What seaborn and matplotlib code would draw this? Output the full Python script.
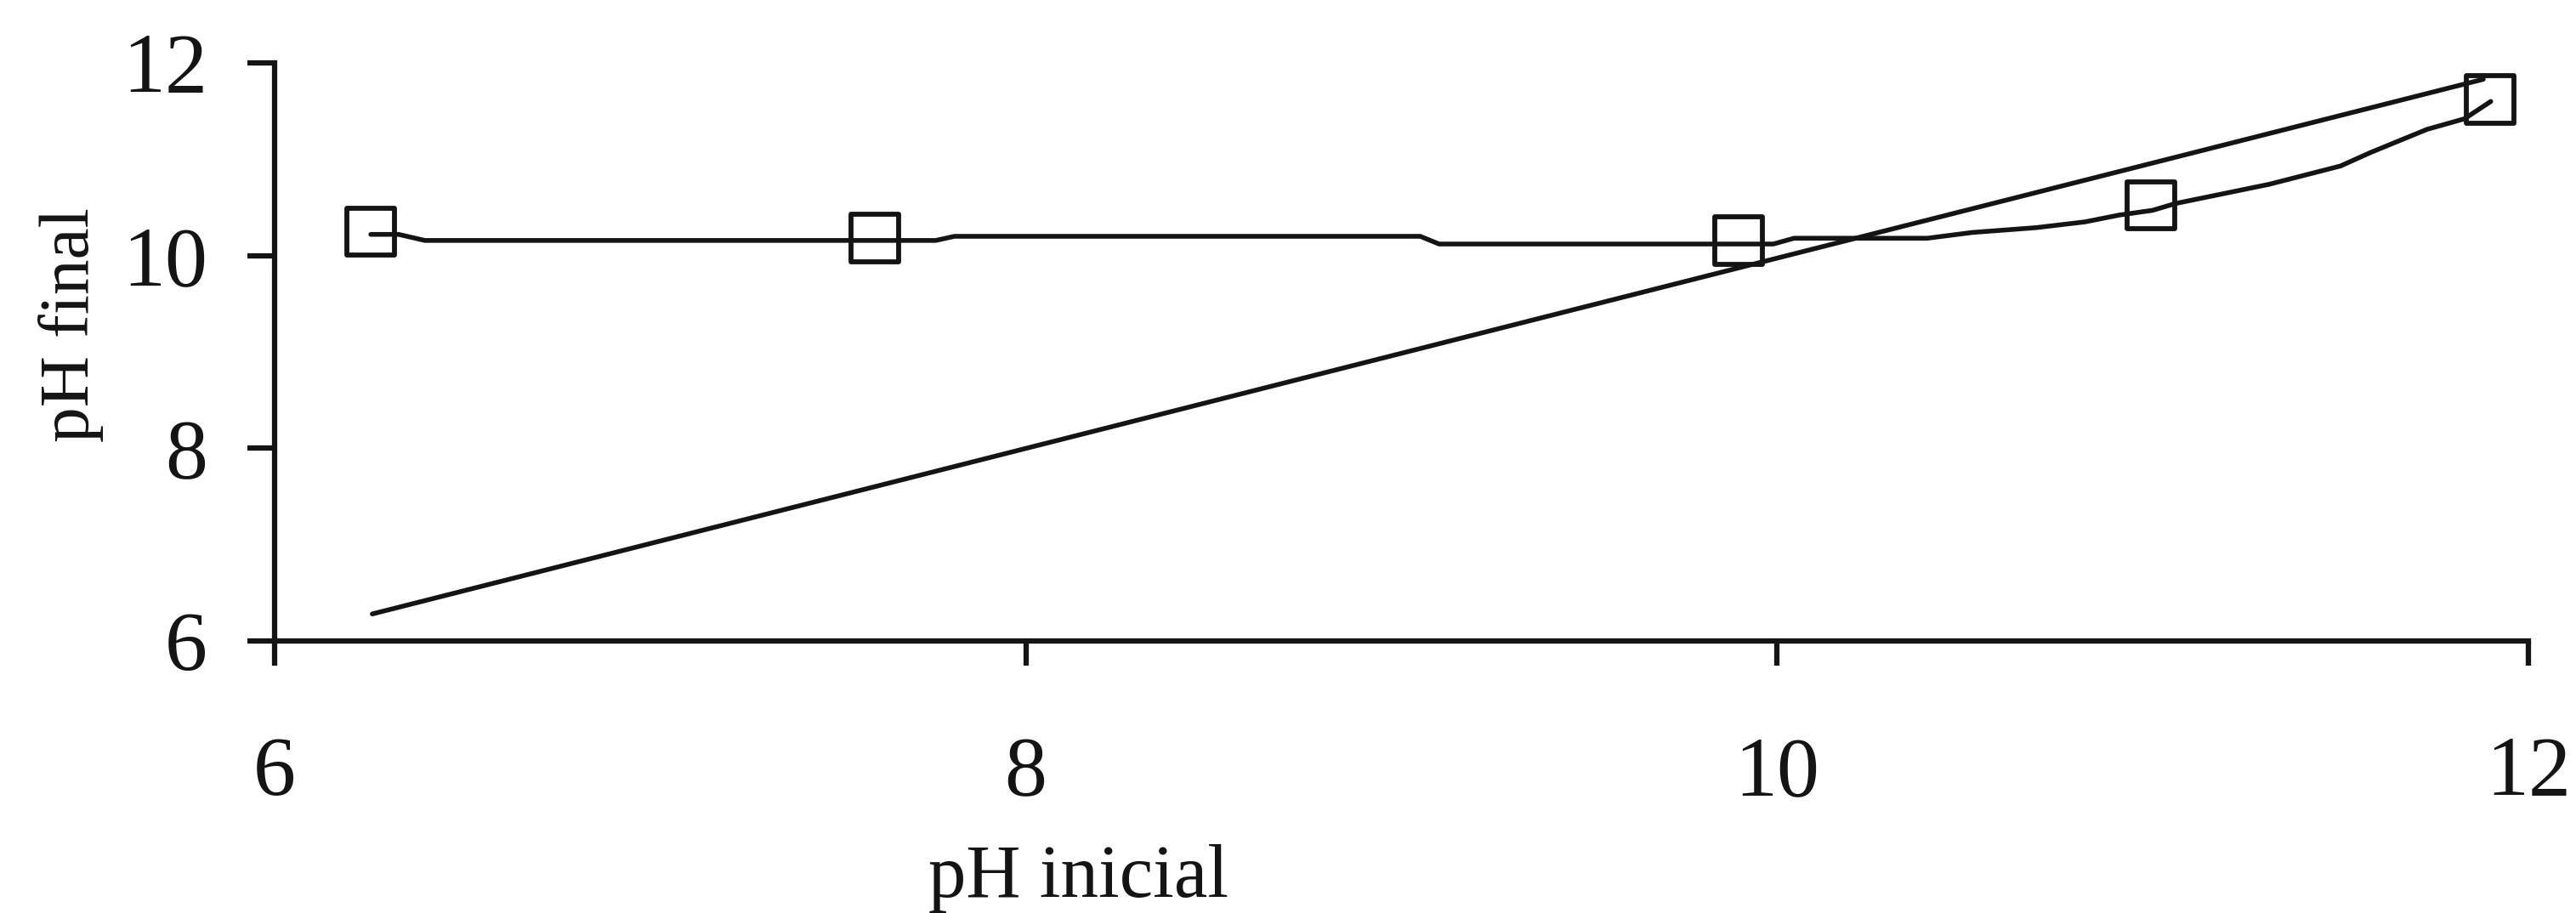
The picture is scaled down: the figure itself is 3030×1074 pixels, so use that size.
import matplotlib
matplotlib.use("Agg")
import matplotlib.pyplot as plt
import seaborn as sns
import pandas as pd

# Measured points: initial vs final pH
ph_inicial = [6.256, 7.598, 9.898, 10.995, 11.898]
ph_final = [10.25, 10.18, 10.157, 10.52, 11.62]

# Trend curve drawn through the measurements
curve_x = [6.256, 6.33, 6.40, 7.76, 7.81, 9.05, 9.10, 9.99, 10.045, 10.40,
           10.52, 10.69, 10.82, 10.91, 11.00, 11.06, 11.31, 11.50, 11.58,
           11.73, 11.83, 11.90]
curve_y = [10.22, 10.22, 10.157, 10.157, 10.20, 10.20, 10.12, 10.12, 10.18,
           10.18, 10.24, 10.29, 10.35, 10.42, 10.47, 10.54, 10.74, 10.93,
           11.07, 11.31, 11.42, 11.60]

# Reference line pH final = pH inicial
ref_x = [6.26, 11.88]
ref_y = [6.28, 11.83]

ticks = [6, 8, 10, 12]

sns.set_theme(style="ticks")
plt.rcParams["font.family"] = ["Liberation Serif", "DejaVu Serif"]
ink = "#141414"

fig = plt.figure(figsize=(30.30, 10.74), dpi=100)
ax = fig.add_axes([0.1066, 0.2980, 0.9815 - 0.1066, 0.9311 - 0.2980])

sns.lineplot(x=ref_x, y=ref_y, ax=ax, color=ink, lw=4.0,
             estimator=None, sort=False)
sns.lineplot(x=curve_x, y=curve_y, ax=ax, color=ink, lw=4.0,
             estimator=None, sort=False)
pts = pd.DataFrame({"ini": ph_inicial, "fin": ph_final})
sns.scatterplot(data=pts, x="ini", y="fin", ax=ax, marker="s", s=1600,
                facecolor="none", edgecolor=ink, linewidth=4.2,
                clip_on=False, zorder=5)

ax.set_xlim(6, 12)
ax.set_ylim(6, 12)
ax.set_xticks(ticks)
ax.set_yticks(ticks)
ax.set_xticklabels([str(t) for t in ticks])
ax.set_yticklabels([str(t) for t in ticks])

sns.despine(ax=ax)
for side in ("left", "bottom"):
    ax.spines[side].set_linewidth(4.5)
    ax.spines[side].set_color(ink)

ax.tick_params(axis="x", direction="out", length=21, width=4.5, color=ink,
               labelsize=72, pad=60, labelcolor=ink)
ax.tick_params(axis="y", direction="out", length=23, width=4.5, color=ink,
               labelsize=72, pad=34, labelcolor=ink)

ax.set_xlabel("pH inicial", fontsize=64, color=ink, va="top")
ax.xaxis.set_label_coords(0.3565, -0.352)
ax.set_ylabel("pH final", fontsize=60, color=ink, va="center")
ax.yaxis.set_label_coords(-0.0905, 0.547)

fig.savefig("out.png", dpi=100, facecolor="white")
